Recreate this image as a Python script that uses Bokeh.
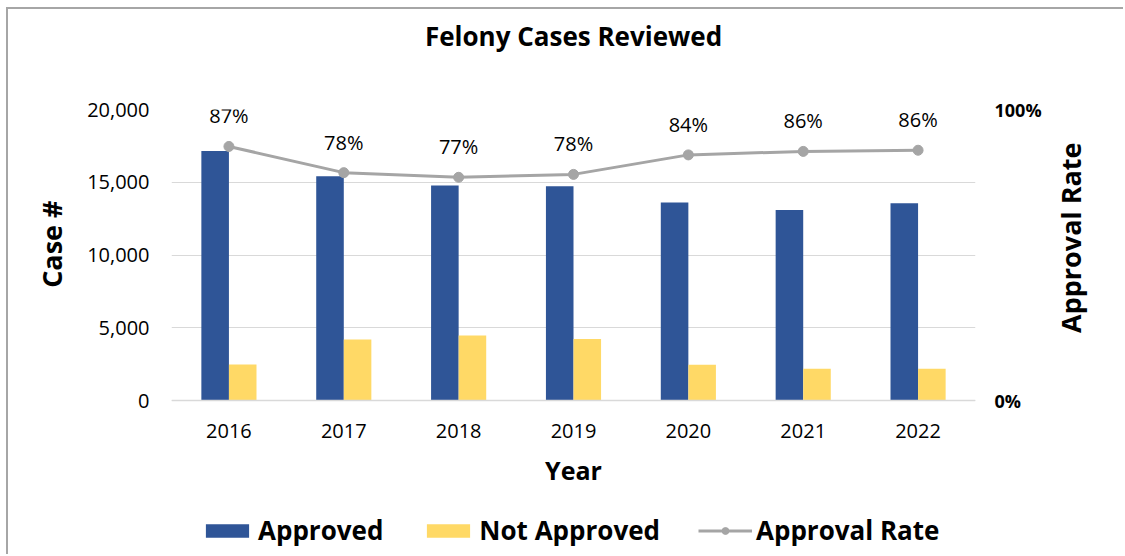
import math
from bokeh.plotting import figure
from bokeh.models import (ColumnDataSource, FactorRange, Range1d, LinearAxis, FixedTicker,
                          NumeralTickFormatter, LabelSet, Legend, LegendItem, Title)
from bokeh.transform import dodge
from bokeh.core.properties import value
from bokeh.embed import file_html
from bokeh.resources import INLINE

# ---- data ----
years = ["2016", "2017", "2018", "2019", "2020", "2021", "2022"]
approved = [17150, 15410, 14770, 14720, 13600, 13090, 13550]
not_approved = [2480, 4200, 4470, 4220, 2460, 2180, 2180]
approval_rate = [0.873, 0.783, 0.767, 0.777, 0.844, 0.856, 0.860]
rate_labels = ["87%", "78%", "77%", "78%", "84%", "86%", "86%"]
case_ticks = [0, 5000, 10000, 15000, 20000]
rate_ticks = [0, 1]
case_max = 20000
rate_max = 1

src = ColumnDataSource(dict(year=years, approved=approved, not_approved=not_approved,
                            rate=approval_rate, rate_label=rate_labels))

FONT = "Open Sans"
BLUE = "#2F5597"
YELLOW = "#FFD966"
GRAY = "#A5A5A5"

# layout (pixels): the frame spans from the top border to the bottom of the
# canvas; value zero sits 156 px above the bottom, leaving room for the
# year axis and the legend inside the frame.
W, H, TOP, BELOW_ZERO = 1117, 547, 100, 156
AXIS_PX = H - TOP - BELOW_ZERO
case_start = -case_max * BELOW_ZERO / AXIS_PX
rate_start = -rate_max * BELOW_ZERO / AXIS_PX

p = figure(x_range=FactorRange(factors=years, range_padding=0),
           y_range=Range1d(case_start, case_max),
           width=W, height=H,
           min_border_left=163, min_border_right=150,
           min_border_top=TOP, min_border_bottom=0,
           output_backend="svg", toolbar_location=None)
p.extra_y_ranges = {"rate": Range1d(rate_start, rate_max)}
p.styles = {"margin-left": "6px", "margin-top": "7px",
            "border-left": "2px solid #A6A6A6", "border-top": "2px solid #A6A6A6"}
p.outline_line_color = None
p.background_fill_color = "white"
p.border_fill_color = "white"

# title
p.title.text = "Felony Cases Reviewed"
p.title.align = "center"
p.title.text_font = FONT
p.title.text_font_size = "26px"
p.title.text_font_style = "bold"
p.title.text_color = "#000000"
p.title.standoff = 10
p.add_layout(Title(text=" ", text_font_size="10px", standoff=38), "above")

BW = 0.24
r1 = p.vbar(x=dodge("year", -BW / 2, range=p.x_range), top="approved", width=BW,
            source=src, fill_color=BLUE, line_color=None)
r2 = p.vbar(x=dodge("year", BW / 2, range=p.x_range), top="not_approved", width=BW,
            source=src, fill_color=YELLOW, line_color=None)
r3 = p.line(x="year", y="rate", source=src, y_range_name="rate",
            line_color=GRAY, line_width=3)
r4 = p.scatter(x="year", y="rate", source=src, y_range_name="rate",
               size=10, fill_color=GRAY, line_color=GRAY)

labels = LabelSet(x="year", y="rate", text="rate_label", source=src, y_range_name="rate",
                  y_offset=23, text_align="center", text_baseline="alphabetic",
                  text_font=value(FONT), text_font_size="20px", text_color="#000000")
p.add_layout(labels)

# grid
p.xgrid.visible = False
p.ygrid.grid_line_color = "#D9D9D9"
p.ygrid.grid_line_width = 1

# x axis, pinned at zero
xa = p.xaxis[0]
xa.fixed_location = 0
xa.axis_label = "Year"
xa.axis_label_text_font = FONT
xa.axis_label_text_font_size = "25px"
xa.axis_label_text_font_style = "bold"
xa.axis_label_text_color = "#000000"
xa.axis_label_standoff = 12
xa.major_label_text_font = FONT
xa.major_label_text_font_size = "20px"
xa.major_label_text_color = "#000000"
xa.major_label_standoff = 17
xa.major_tick_line_color = None
xa.minor_tick_line_color = None
xa.axis_line_color = "#D9D9D9"
xa.axis_line_width = 1.5

# left axis
ya = p.yaxis[0]
ya.ticker = FixedTicker(ticks=case_ticks)
ya.formatter = NumeralTickFormatter(format="0,0")
ya.bounds = (0, case_max)
ya.major_label_text_font = FONT
ya.major_label_text_font_size = "20px"
ya.major_label_text_color = "#000000"
ya.major_label_standoff = 16
ya.major_tick_line_color = None
ya.minor_tick_line_color = None
ya.axis_line_color = None

# left axis title (placed next to the value ticks, reading bottom-to-top)
p.add_layout(Title(text="Case #", align="right", offset=91, standoff=29,
                   text_font=FONT, text_font_size="27px", text_font_style="bold",
                   text_color="#000000"), "left")

# right axis: percentage ticks
ra = LinearAxis(y_range_name="rate", ticker=FixedTicker(ticks=rate_ticks),
                formatter=NumeralTickFormatter(format="0%"), bounds=(0, rate_max))
ra.major_label_text_font = FONT
ra.major_label_text_font_size = "18px"
ra.major_label_text_font_style = "bold"
ra.major_label_text_color = "#000000"
ra.major_label_standoff = 13
ra.major_tick_line_color = None
ra.minor_tick_line_color = None
ra.axis_line_color = None
p.add_layout(ra, "right")

# right axis title, reading bottom-to-top
ra2 = LinearAxis(y_range_name="rate", ticker=FixedTicker(ticks=[]), bounds=(0, 0.358))
ra2.axis_label = "Approval Rate"
ra2.axis_label_orientation = math.pi / 2
ra2.axis_label_text_font = FONT
ra2.axis_label_text_font_size = "27px"
ra2.axis_label_text_font_style = "bold"
ra2.axis_label_text_color = "#000000"
ra2.axis_label_standoff = 26
ra2.major_tick_out = 0
ra2.major_label_standoff = 0
ra2.major_tick_line_color = None
ra2.minor_tick_line_color = None
ra2.axis_line_color = None
p.add_layout(ra2, "right")

legend = Legend(items=[LegendItem(label="Approved", renderers=[r1]),
                       LegendItem(label="Not Approved", renderers=[r2]),
                       LegendItem(label="Approval Rate", renderers=[r3, r4])],
                location=(29, 8), orientation="horizontal",
                padding=0, margin=0, spacing=38, label_standoff=4,
                glyph_width=54, glyph_height=17,
                label_text_font=FONT, label_text_font_size="26px",
                label_text_font_style="bold", label_text_color="#000000",
                border_line_color=None, background_fill_alpha=0)
p.add_layout(legend)

open("out.html", "w").write(file_html(p, INLINE))
